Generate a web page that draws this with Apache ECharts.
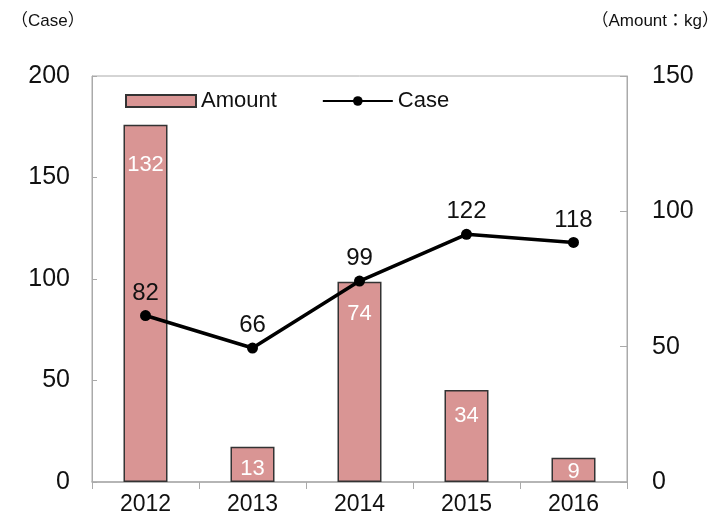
<!DOCTYPE html>
<html>
<head>
<meta charset="utf-8">
<script src="https://cdn.jsdelivr.net/npm/echarts@6/dist/echarts.min.js"></script>
<style>
html, body { margin: 0; padding: 0; background: #fff; }
#container { width: 728px; height: 522px; }
</style>
</head>
<body>
<div id="container"></div>
<script>
// data
var years = ['2012', '2013', '2014', '2015', '2016'];
var amountKg = [132, 13, 74, 34, 9];
var cases = [82, 66, 99, 122, 118];
var caseTicks = [0, 50, 100, 150, 200];
var amountTicks = [0, 50, 100, 150];

// label gaps inside the bars, as in the original (style only)
var barLabelGap = [29, 11, 21, 15, 3];

var font = "'Liberation Sans', Arial, 'Noto Sans CJK JP', sans-serif";

var myChart = echarts.init(document.getElementById('container'));

var barData = amountKg.map(function (v, i) {
    return { value: v, label: { distance: barLabelGap[i] } };
});

var option = {
    backgroundColor: '#fff',
    textStyle: { fontFamily: font },
    title: [
        { text: '（Case）', left: 6, top: 8, textStyle: { fontSize: 17, fontWeight: 'normal', color: '#111', fontFamily: font } },
        { text: '（Amount：kg）', right: 4, top: 8, textStyle: { fontSize: 17, fontWeight: 'normal', color: '#111', fontFamily: font } }
    ],
    legend: {
        left: 120, top: 85,
        itemWidth: 70, itemHeight: 12, itemGap: 45,
        textStyle: { fontSize: 22, color: '#111', fontFamily: font },
        data: [
            { name: 'Amount', icon: 'rect' },
            { name: 'Case' }
        ]
    },
    grid: {
        left: 92, right: 101, top: 76, bottom: 40,
        show: true, borderColor: '#aaa', borderWidth: 1
    },
    xAxis: {
        type: 'category',
        data: years,
        axisLine: { lineStyle: { color: '#aaa', width: 1.5 } },
        axisTick: { show: true, length: 7, lineStyle: { color: '#aaa' } },
        axisLabel: { fontSize: 23, color: '#111', margin: 11, fontFamily: font }
    },
    yAxis: [
        {
            type: 'value', min: caseTicks[0], max: caseTicks[caseTicks.length - 1], interval: 50,
            position: 'left',
            axisLine: { show: true, lineStyle: { color: '#aaa' } },
            axisTick: { show: true, inside: true, length: 5, lineStyle: { color: '#aaa' } },
            splitLine: { show: false },
            axisLabel: { fontSize: 25, color: '#111', margin: 22, fontFamily: font }
        },
        {
            type: 'value', min: amountTicks[0], max: amountTicks[amountTicks.length - 1], interval: 50,
            position: 'right',
            axisLine: { show: true, lineStyle: { color: '#aaa' } },
            axisTick: { show: true, inside: true, length: 7, lineStyle: { color: '#aaa' } },
            splitLine: { show: false },
            axisLabel: { fontSize: 25, color: '#111', margin: 25, fontFamily: font }
        }
    ],
    series: [
        {
            name: 'Amount',
            type: 'bar',
            yAxisIndex: 1,
            barWidth: 44,
            data: barData,
            itemStyle: { color: '#d99594', borderColor: '#333', borderWidth: 1.5 },
            label: { show: true, position: 'insideTop', color: '#fff', fontSize: 22, fontFamily: font }
        },
        {
            name: 'Case',
            type: 'line',
            yAxisIndex: 0,
            data: cases,
            symbol: 'circle',
            symbolSize: 11,
            itemStyle: { color: '#000' },
            lineStyle: { color: '#000', width: 3.5 },
            label: { show: true, position: 'top', distance: 5, color: '#111', fontSize: 24, fontFamily: font },
            z: 5
        }
    ]
};

myChart.setOption(option);
</script>
</body>
</html>
